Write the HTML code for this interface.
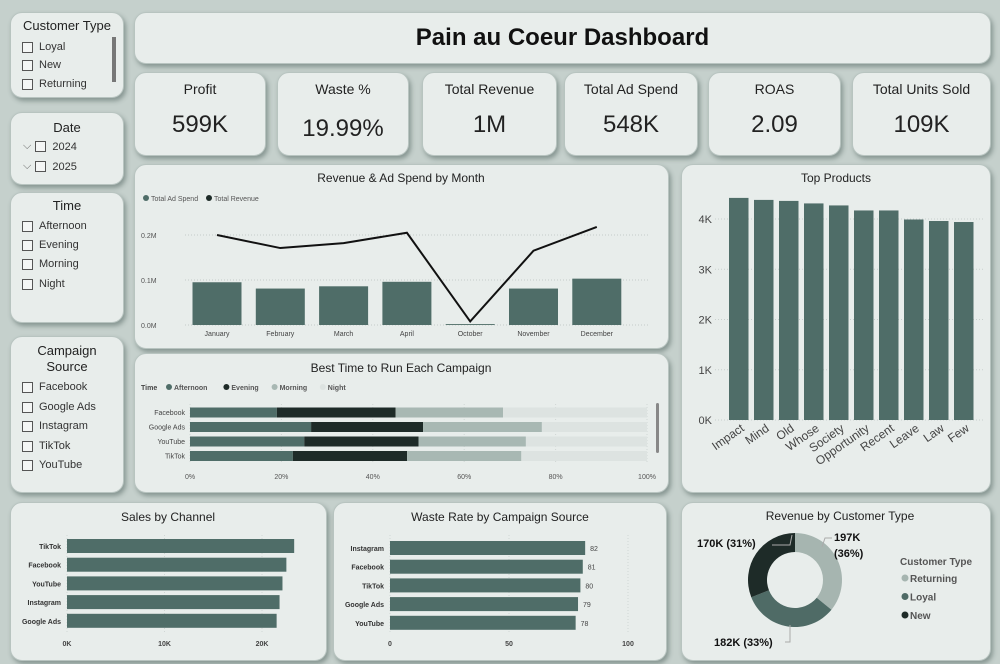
<!DOCTYPE html>
<html><head><meta charset="utf-8">
<style>
body{margin:0;width:1000px;height:664px;background:#c5d0cc;font-family:"Liberation Sans",sans-serif;overflow:hidden;position:relative;color:#222}
.card{position:absolute;background:#e8edeb;border-radius:12px;box-shadow:2px 3px 5px rgba(60,80,75,.45);border:1px solid #b8c4c0;box-sizing:border-box}
.ttl{position:absolute;left:0;right:0;text-align:center;font-size:13px;color:#222}
.kl{position:absolute;top:8px;left:0;right:0;text-align:center;font-size:14px}
.kv{position:absolute;top:38px;left:0;right:0;text-align:center;font-size:24px}
.sl{position:absolute;font-size:11px;color:#333;display:flex;align-items:center}
.cb{display:inline-block;width:9px;height:9px;border:1px solid #555;margin-right:6px;background:#f4f6f5}
svg text{font-family:"Liberation Sans",sans-serif}
</style></head><body>
<!-- slicers -->
<div class="card" style="left:10px;top:12px;width:114px;height:86px">
 <div class="ttl" style="top:5px;font-size:13px">Customer Type</div>
 <div class="sl" style="left:11px;top:28px"><span class="cb"></span>Loyal</div>
 <div class="sl" style="left:11px;top:46px"><span class="cb"></span>New</div>
 <div class="sl" style="left:11px;top:65px"><span class="cb"></span>Returning</div>
 <div style="position:absolute;left:101px;top:24px;width:4px;height:45px;background:#777"></div>
</div>
<div class="card" style="left:10px;top:112px;width:114px;height:73px">
 <div class="ttl" style="top:7px">Date</div>
 <div class="sl" style="left:12px;top:27px"><span style="margin-right:4px;color:#666">⌵</span><span class="cb"></span>2024</div>
 <div class="sl" style="left:12px;top:47px"><span style="margin-right:4px;color:#666">⌵</span><span class="cb"></span>2025</div>
</div>
<div class="card" style="left:10px;top:192px;width:114px;height:131px">
 <div class="ttl" style="top:5px">Time</div>
 <div class="sl" style="left:11px;top:27px"><span class="cb"></span>Afternoon</div>
 <div class="sl" style="left:11px;top:46px"><span class="cb"></span>Evening</div>
 <div class="sl" style="left:11px;top:65px"><span class="cb"></span>Morning</div>
 <div class="sl" style="left:11px;top:85px"><span class="cb"></span>Night</div>
</div>
<div class="card" style="left:10px;top:336px;width:114px;height:157px">
 <div class="ttl" style="top:6px;line-height:16px">Campaign<br>Source</div>
 <div class="sl" style="left:11px;top:44px"><span class="cb"></span>Facebook</div>
 <div class="sl" style="left:11px;top:64px"><span class="cb"></span>Google Ads</div>
 <div class="sl" style="left:11px;top:83px"><span class="cb"></span>Instagram</div>
 <div class="sl" style="left:11px;top:103px"><span class="cb"></span>TikTok</div>
 <div class="sl" style="left:11px;top:122px"><span class="cb"></span>YouTube</div>
</div>
<!-- title -->
<div class="card" style="left:134px;top:12px;width:857px;height:52px">
 <div class="ttl" style="top:11px;font-size:24px;font-weight:bold;color:#111">Pain au Coeur Dashboard</div>
</div>
<!-- KPIs -->
<div class="card" style="left:134px;top:72px;width:132px;height:84px"><div class="kl">Profit</div><div class="kv">599K</div></div>
<div class="card" style="left:277px;top:72px;width:132px;height:84px"><div class="kl">Waste %</div><div class="kv" style="top:42px">19.99%</div></div>
<div class="card" style="left:422px;top:72px;width:135px;height:84px"><div class="kl">Total Revenue</div><div class="kv">1M</div></div>
<div class="card" style="left:564px;top:72px;width:134px;height:84px"><div class="kl">Total Ad Spend</div><div class="kv">548K</div></div>
<div class="card" style="left:708px;top:72px;width:133px;height:84px"><div class="kl">ROAS</div><div class="kv">2.09</div></div>
<div class="card" style="left:852px;top:72px;width:139px;height:84px"><div class="kl">Total Units Sold</div><div class="kv">109K</div></div>

<div class="card" style="left:134px;top:164px;width:535px;height:185px"></div>
<div class="card" style="left:134px;top:353px;width:535px;height:140px"></div>
<div class="card" style="left:681px;top:164px;width:310px;height:329px"></div>
<div class="card" style="left:10px;top:502px;width:317px;height:159px"></div>
<div class="card" style="left:333px;top:502px;width:334px;height:159px"></div>
<div class="card" style="left:681px;top:502px;width:310px;height:159px"></div>

<svg id="s" width="1000" height="664" style="position:absolute;left:0;top:0"></svg>
<script>
const months=["January","February","March","April","October","November","December"];
const adSpend=[0.095,0.081,0.086,0.096,0.002,0.081,0.103];
const revenue=[0.200,0.171,0.182,0.205,0.008,0.165,0.218];
const revTicks=[0,0.1,0.2];
const channels=["Facebook","Google Ads","YouTube","TikTok"];
const afternoon=[19,26.5,25,22.5];
const evening=[26,24.5,25,25];
const morning=[23.5,26,23.5,25];
const night=[31.5,23,26.5,27.5];
const pctTicks=[0,20,40,60,80,100];
const products=["Impact","Mind","Old","Whose","Society","Opportunity","Recent","Leave","Law","Few"];
const productUnits=[4420,4380,4360,4310,4270,4170,4170,3990,3960,3940];
const prodTicks=[0,1000,2000,3000,4000];
const salesChannels=["TikTok","Facebook","YouTube","Instagram","Google Ads"];
const salesValues=[23.3,22.5,22.1,21.8,21.5];
const salesTicks=[0,10,20];
const wasteSources=["Instagram","Facebook","TikTok","Google Ads","YouTube"];
const wasteValues=[82,81,80,79,78];
const wasteTicks=[0,50,100];
const custTypes=["Returning","Loyal","New"];
const custValues=[197,182,170];
const custPct=[36,33,31];

const S=document.getElementById('s');const NS="http://www.w3.org/2000/svg";
const BAR="#4f6d68";
function el(t,a,txt){const e=document.createElementNS(NS,t);for(const k in a)e.setAttribute(k,a[k]);if(txt!==undefined)e.textContent=txt;S.appendChild(e);return e;}
function tx(x,y,s,o){o=o||{};const e=el('text',{x:x,y:y,'font-size':o.fs||8,fill:o.fill||'#333','text-anchor':o.a||'start','font-weight':o.fw||'normal'},s);if(o.rot)e.setAttribute('transform',`rotate(${o.rot} ${x} ${y})`);return e;}

// Revenue & Ad Spend
tx(401,182,"Revenue & Ad Spend by Month",{fs:12,a:'middle',fill:'#222'});
el('circle',{cx:146,cy:198,r:3,fill:BAR});tx(151,201,"Total Ad Spend",{fs:7,fill:'#555'});
el('circle',{cx:209,cy:198,r:3,fill:'#1e2b28'});tx(214,201,"Total Revenue",{fs:7,fill:'#555'});
const ry=v=>325-v*450, mx=i=>217+i*63.3;
revTicks.forEach(t=>{el('line',{x1:185,x2:650,y1:ry(t),y2:ry(t),stroke:'#c4ccc9','stroke-dasharray':'1 2'});tx(141,ry(t)+3,t.toFixed(1)+"M",{fs:7,fill:'#555'});});
months.forEach((m,i)=>{const r=el('rect',{x:mx(i)-24.5,y:ry(adSpend[i]),width:49,height:325-ry(adSpend[i]),fill:BAR});


tx(mx(i),336,m,{fs:7,a:'middle',fill:'#444'});});
const rl=el('polyline',{points:revenue.map((v,i)=>mx(i)+","+ry(v)).join(" "),fill:'none',stroke:'#111','stroke-width':2});



// Best time
tx(401,372,"Best Time to Run Each Campaign",{fs:12,a:'middle',fill:'#222'});
const lg=[["Afternoon",BAR],["Evening","#1e2b28"],["Morning","#a8b8b3"],["Night","#dde3e1"]];
tx(141,390,"Time",{fs:7,fw:'bold',fill:'#444'});
let lx=166;lg.forEach(l=>{el('circle',{cx:lx+3,cy:387,r:3,fill:l[1]});tx(lx+8,390,l[0],{fs:7,fw:'bold',fill:'#555'});lx+=l[0].length*4.6+16;});
const px=p=>190+p*4.57;
pctTicks.forEach(t=>{el('line',{x1:px(t),x2:px(t),y1:404,y2:464,stroke:'#d0d6d4','stroke-dasharray':'1 2'});tx(px(t),479,t+"%",{fs:7,a:'middle',fill:'#555'});});
const segs=[afternoon,evening,morning,night],scol=[BAR,"#1e2b28","#a8b8b3","#dde3e1"],sname=["afternoon","evening","morning","night"];
channels.forEach((c,i)=>{const y=407.5+i*14.5;let acc=0;tx(185,y+7.5,c,{fs:7,a:'end',fill:'#444'});
segs.forEach((s,k)=>{const r=el('rect',{x:px(acc),y:y,width:px(acc+s[i])-px(acc),height:10,fill:scol[k]});

acc+=s[i];});});
el('rect',{x:656,y:403,width:3,height:50,rx:1.5,fill:'#888'});

// Top products
tx(836,182,"Top Products",{fs:12,a:'middle',fill:'#222'});
const py=v=>420-v*0.05025;
prodTicks.forEach(t=>{el('line',{x1:715,x2:983,y1:py(t),y2:py(t),stroke:'#c9d0ce','stroke-dasharray':'1 2'});tx(712,py(t)+4,(t/1000)+"K",{fs:11,a:'end',fill:'#444'});});
products.forEach((p,i)=>{const x=729+i*25;const r=el('rect',{x:x,y:py(productUnits[i]),width:19.5,height:420-py(productUnits[i]),fill:BAR});


tx(x+16,430,p,{fs:12,a:'end',fill:'#444',rot:-35});});

// Sales by channel
tx(168,521,"Sales by Channel",{fs:12,a:'middle',fill:'#222'});
const sx=v=>67+v*9.75;
salesTicks.forEach(t=>{el('line',{x1:sx(t),x2:sx(t),y1:535,y2:632,stroke:'#d0d6d4','stroke-dasharray':'1 2'});tx(sx(t),646,t+"K",{fs:7,fw:'bold',a:'middle',fill:'#444'});});
salesChannels.forEach((c,i)=>{const y=539+i*18.7;const r=el('rect',{x:67,y:y,width:sx(salesValues[i])-67,height:14,fill:BAR});


tx(61,y+10,c,{fs:7,fw:'bold',a:'end',fill:'#333'});});

// Waste rate
tx(500,521,"Waste Rate by Campaign Source",{fs:12,a:'middle',fill:'#222'});
const wx=v=>390+v*2.38;
wasteTicks.forEach(t=>{el('line',{x1:wx(t),x2:wx(t),y1:535,y2:632,stroke:'#d0d6d4','stroke-dasharray':'1 2'});tx(wx(t),646,t,{fs:7,fw:'bold',a:'middle',fill:'#444'});});
wasteSources.forEach((c,i)=>{const y=541+i*18.7;const r=el('rect',{x:390,y:y,width:wx(wasteValues[i])-390,height:14,fill:BAR});


tx(384,y+10,c,{fs:7,fw:'bold',a:'end',fill:'#333'});tx(wx(wasteValues[i])+5,y+10,wasteValues[i],{fs:7,fill:'#444'});});

// Donut
tx(840,520,"Revenue by Customer Type",{fs:12,a:'middle',fill:'#222'});
const cx=795,cy=580,R=47,r0=28,dcol=["#a6b5b0","#4f6b66","#1e2b28"];
const tot=custValues.reduce((a,b)=>a+b,0);let ang=0;
custValues.forEach((v,i)=>{const a0=ang,a1=ang+v/tot*2*Math.PI;ang=a1;
const p=(a,r)=>[cx+r*Math.sin(a),cy-r*Math.cos(a)];const lg=(a1-a0)>Math.PI?1:0;
const [x0,y0]=p(a0,R),[x1,y1]=p(a1,R),[x2,y2]=p(a1,r0),[x3,y3]=p(a0,r0);
const s=el('path',{d:`M${x0} ${y0}A${R} ${R} 0 ${lg} 1 ${x1} ${y1}L${x2} ${y2}A${r0} ${r0} 0 ${lg} 0 ${x3} ${y3}Z`,fill:dcol[i]});

});
tx(834,541,custValues[0]+"K",{fs:11,fw:'bold',fill:'#111'});tx(834,557,"("+custPct[0]+"%)",{fs:11,fw:'bold',fill:'#111'});
tx(697,547,custValues[2]+"K ("+custPct[2]+"%)",{fs:11,fw:'bold',fill:'#111'});
tx(714,646,custValues[1]+"K ("+custPct[1]+"%)",{fs:11,fw:'bold',fill:'#111'});
el('polyline',{points:"772,545 790,545 792,535",fill:'none',stroke:'#aaa'});
el('polyline',{points:"822,547 825,538 832,538",fill:'none',stroke:'#aaa'});
el('polyline',{points:"785,642 790,642 790,625",fill:'none',stroke:'#aaa'});
tx(900,565,"Customer Type",{fs:10,fw:'bold',fill:'#555'});
custTypes.forEach((c,i)=>{el('circle',{cx:905,cy:578+i*18.5,r:3.5,fill:dcol[i]});tx(910,582+i*18.5,c,{fs:10,fw:'bold',fill:'#555'});});
</script>
</body></html>
